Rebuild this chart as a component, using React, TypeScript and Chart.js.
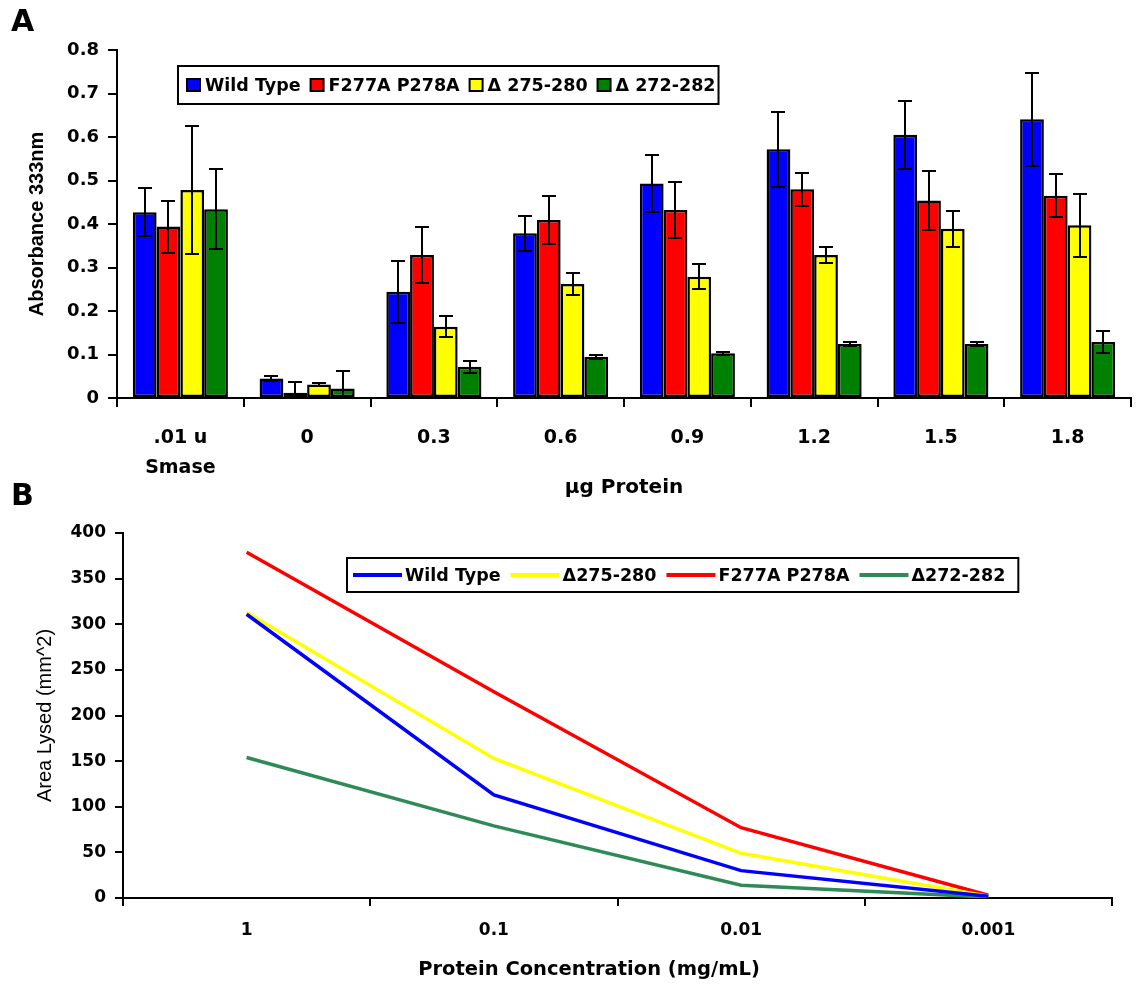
import React, { useEffect, useRef } from 'react';
import { Chart, registerables } from 'chart.js';

Chart.register(...registerables);

// ---------- Panel A data ----------
const barCategories: (string | string[])[] = [['.01 u', 'Smase'], '0', '0.3', '0.6', '0.9', '1.2', '1.5', '1.8'];
const barSeriesNames = ['Wild Type', 'F277A P278A', 'Δ 275-280', 'Δ 272-282'];
const barColors = ['#0000FF', '#FF0000', '#FFFF00', '#008000'];
const wildTypeAbs = [0.427, 0.045, 0.244, 0.379, 0.493, 0.572, 0.605, 0.641];
const wildTypeErr = [0.055, 0.006, 0.072, 0.04, 0.065, 0.086, 0.078, 0.107];
const f277aAbs = [0.394, 0.012, 0.329, 0.409, 0.432, 0.48, 0.454, 0.465];
const f277aErr = [0.06, 0.025, 0.065, 0.056, 0.065, 0.038, 0.068, 0.05];
const d275Abs = [0.478, 0.031, 0.164, 0.262, 0.279, 0.329, 0.389, 0.397];
const d275Err = [0.148, 0.004, 0.024, 0.026, 0.029, 0.019, 0.042, 0.072];
const d272Abs = [0.434, 0.022, 0.072, 0.095, 0.103, 0.124, 0.124, 0.129];
const d272Err = [0.092, 0.04, 0.014, 0.005, 0.003, 0.004, 0.005, 0.025];

// ---------- Panel B data ----------
const concLabels = ['1', '0.1', '0.01', '0.001'];
const lineNames = ['Wild Type', 'Δ275-280', 'F277A P278A', 'Δ272-282'];
const lineColors = ['#0000FF', '#FFFF00', '#FF0000', '#2E8B57'];
const wildTypeArea = [311, 113, 30, 2];
const d275Area = [313, 153, 49, 2];
const f277aArea = [379, 226, 77, 3];
const d272Area = [154, 79, 14, 1];

const WIDE = '"DejaVu Sans", Verdana, sans-serif';
const ARIAL = '"Liberation Sans", Arial, sans-serif';

type LegendCfg = {
  x: number; y: number; h: number; font: string; kind: 'square' | 'line';
  padLeft: number; padRight: number; markerW: number; gapText: number; gapItem: number;
};

const makeBoxLegend = (cfg: LegendCfg) => ({
  id: 'boxLegend',
  afterDraw(chart: any) {
    const ctx = chart.ctx as CanvasRenderingContext2D;
    ctx.save();
    ctx.font = cfg.font;
    const items: { mx: number; tx: number; label: string; color: string }[] = [];
    let x = cfg.x + cfg.padLeft;
    chart.data.datasets.forEach((ds: any) => {
      const mx = x;
      const tx = mx + cfg.markerW + cfg.gapText;
      const w = ctx.measureText(ds.label).width;
      items.push({ mx, tx, label: ds.label, color: cfg.kind === 'square' ? ds.backgroundColor : ds.borderColor });
      x = tx + w + cfg.gapItem;
    });
    const right = x - cfg.gapItem + cfg.padRight;
    ctx.fillStyle = '#fff';
    ctx.fillRect(cfg.x, cfg.y, right - cfg.x, cfg.h);
    ctx.strokeStyle = '#000';
    ctx.lineWidth = 2;
    ctx.strokeRect(cfg.x, cfg.y, right - cfg.x, cfg.h);
    const cy = cfg.y + cfg.h / 2;
    items.forEach((it) => {
      if (cfg.kind === 'square') {
        ctx.fillStyle = it.color;
        ctx.fillRect(it.mx, cy - 6, cfg.markerW, 12);
        ctx.strokeStyle = '#000';
        ctx.lineWidth = 2;
        ctx.strokeRect(it.mx, cy - 6, cfg.markerW, 12);
      } else {
        ctx.strokeStyle = it.color;
        ctx.lineWidth = 4;
        ctx.beginPath();
        ctx.moveTo(it.mx, cy);
        ctx.lineTo(it.mx + cfg.markerW, cy);
        ctx.stroke();
      }
      ctx.fillStyle = '#000';
      ctx.textBaseline = 'middle';
      ctx.textAlign = 'left';
      ctx.fillText(it.label, it.tx, cy + 1);
    });
    ctx.restore();
  },
});

const errorBarPlugin = {
  id: 'errorBars',
  afterDatasetsDraw(chart: any) {
    const ctx = chart.ctx as CanvasRenderingContext2D;
    const y = chart.scales.y;
    ctx.save();
    ctx.strokeStyle = '#000';
    ctx.lineWidth = 2;
    chart.data.datasets.forEach((ds: any, i: number) => {
      const meta = chart.getDatasetMeta(i);
      meta.data.forEach((el: any, j: number) => {
        const v = ds.data[j];
        const e = ds.errors[j];
        const top = Math.round(y.getPixelForValue(v + e));
        const bot = Math.round(y.getPixelForValue(Math.max(0, v - e)));
        const cx = Math.round(el.x);
        ctx.beginPath();
        ctx.moveTo(cx, top);
        ctx.lineTo(cx, bot);
        ctx.moveTo(cx - 7, top);
        ctx.lineTo(cx + 7, top);
        if (v - e > 0) {
          ctx.moveTo(cx - 7, bot);
          ctx.lineTo(cx + 7, bot);
        }
        ctx.stroke();
      });
    });
    ctx.restore();
  },
};

function BarPanel() {
  const ref = useRef<HTMLCanvasElement>(null);
  useEffect(() => {
    const series = [wildTypeAbs, f277aAbs, d275Abs, d272Abs];
    const errs = [wildTypeErr, f277aErr, d275Err, d272Err];
    const chart = new Chart(ref.current as HTMLCanvasElement, {
      type: 'bar',
      data: {
        labels: barCategories as any,
        datasets: series.map((d, i) => ({
          label: barSeriesNames[i],
          data: d,
          errors: errs[i],
          backgroundColor: barColors[i],
          borderColor: '#000',
          borderWidth: 2.5,
          borderSkipped: false,
          categoryPercentage: 0.75,
          barPercentage: 1,
        })) as any,
      },
      options: {
        animation: false,
        responsive: false,
        events: [],
        layout: { padding: { left: 0, top: 50, right: 6, bottom: 0 } },
        plugins: { legend: { display: false }, tooltip: { enabled: false } },
        scales: {
          x: {
            grid: { display: true, drawOnChartArea: false, drawTicks: true, tickLength: 9, color: '#000', lineWidth: 2, offset: true },
            border: { display: true, color: '#000', width: 2 },
            ticks: {
              color: '#000', autoSkip: false, maxRotation: 0, padding: 16,
              font: { family: WIDE, size: 19, weight: 'bold', lineHeight: 1.58 },
            },
            title: {
              display: true, text: 'µg Protein', color: '#000',
              font: { family: WIDE, size: 20, weight: 'bold', lineHeight: 1.2 },
              padding: { top: 0, bottom: 0 },
            },
            afterFit: (s: any) => { s.height = 102; },
          },
          y: {
            min: 0, max: 0.8,
            grid: { display: true, drawOnChartArea: false, drawTicks: true, tickLength: 9, color: '#000', lineWidth: 2 },
            border: { display: true, color: '#000', width: 2 },
            ticks: { stepSize: 0.1, color: '#000', padding: 9, font: { family: WIDE, size: 18, weight: 'bold' } },
            title: {
              display: true, text: 'Absorbance 333nm', color: '#000',
              font: { family: ARIAL, size: 20, weight: 'bold', lineHeight: 1.2 },
              padding: { top: 25, bottom: 0 },
            },
            afterFit: (s: any) => { s.width = 117; },
          },
        },
      } as any,
      plugins: [
        errorBarPlugin,
        makeBoxLegend({ x: 178, y: 66, h: 38, font: `bold 17.5px ${WIDE}`, kind: 'square', padLeft: 9, padRight: 3, markerW: 13, gapText: 5, gapItem: 10 }),
      ],
    });
    return () => chart.destroy();
  }, []);
  return (
    <canvas ref={ref} width={1137} height={500}
      style={{ position: 'absolute', left: 0, top: 0, width: 1137, height: 500 }} />
  );
}

const xTitlePlugin = {
  id: 'xTitleB',
  afterDraw(chart: any) {
    const ctx = chart.ctx as CanvasRenderingContext2D;
    ctx.save();
    ctx.font = `bold 19.5px ${WIDE}`;
    ctx.fillStyle = '#000';
    ctx.textAlign = 'center';
    ctx.textBaseline = 'middle';
    ctx.fillText('Protein Concentration (mg/mL)', 589, 470);
    ctx.restore();
  },
};

function LinePanel() {
  const ref = useRef<HTMLCanvasElement>(null);
  useEffect(() => {
    const series = [wildTypeArea, d275Area, f277aArea, d272Area];
    const chart = new Chart(ref.current as HTMLCanvasElement, {
      type: 'line',
      data: {
        labels: concLabels,
        datasets: series.map((d, i) => ({
          label: lineNames[i],
          data: d,
          borderColor: lineColors[i],
          backgroundColor: lineColors[i],
          borderWidth: 3.5,
          pointRadius: 0,
          tension: 0,
          fill: false,
        })),
      },
      options: {
        animation: false,
        responsive: false,
        events: [],
        layout: { padding: { left: 0, top: 33, right: 25, bottom: 0 } },
        plugins: { legend: { display: false }, tooltip: { enabled: false } },
        scales: {
          x: {
            offset: true,
            grid: { display: true, drawOnChartArea: false, drawTicks: true, tickLength: 8, color: '#000', lineWidth: 2, offset: true },
            border: { display: true, color: '#000', width: 2 },
            ticks: { color: '#000', autoSkip: false, maxRotation: 0, padding: 14, font: { family: WIDE, size: 17, weight: 'bold' } },
            title: { display: false },
            afterFit: (s: any) => { s.height = 87; },
          },
          y: {
            min: 0, max: 400,
            grid: { display: true, drawOnChartArea: false, drawTicks: true, tickLength: 8, color: '#000', lineWidth: 2 },
            border: { display: true, color: '#000', width: 2 },
            ticks: { stepSize: 50, color: '#000', padding: 9, font: { family: WIDE, size: 17, weight: 'bold' } },
            title: {
              display: true, text: 'Area Lysed (mm^2)', color: '#000',
              font: { family: ARIAL, size: 20, weight: 'normal', lineHeight: 1.2 },
              padding: { top: 33, bottom: 0 },
            },
            afterFit: (s: any) => { s.width = 123; },
          },
        },
      } as any,
      plugins: [
        xTitlePlugin,
        makeBoxLegend({ x: 347, y: 58, h: 34, font: `bold 17.5px ${WIDE}`, kind: 'line', padLeft: 6, padRight: 13, markerW: 49, gapText: 3, gapItem: 10 }),
      ],
    });
    return () => chart.destroy();
  }, []);
  return (
    <canvas ref={ref} width={1137} height={485}
      style={{ position: 'absolute', left: 0, top: 500, width: 1137, height: 485 }} />
  );
}

export default function App() {
  const letter: React.CSSProperties = {
    position: 'absolute', left: 11, fontFamily: WIDE, fontWeight: 'bold',
    fontSize: 30, lineHeight: '30px', color: '#000', zIndex: 2,
  };
  return (
    <div style={{ position: 'absolute', left: 0, top: 0, width: 1137, height: 985, background: '#fff', overflow: 'hidden' }}>
      <BarPanel />
      <LinePanel />
      <div style={{ ...letter, top: 6 }}>A</div>
      <div style={{ ...letter, top: 480 }}>B</div>
    </div>
  );
}
